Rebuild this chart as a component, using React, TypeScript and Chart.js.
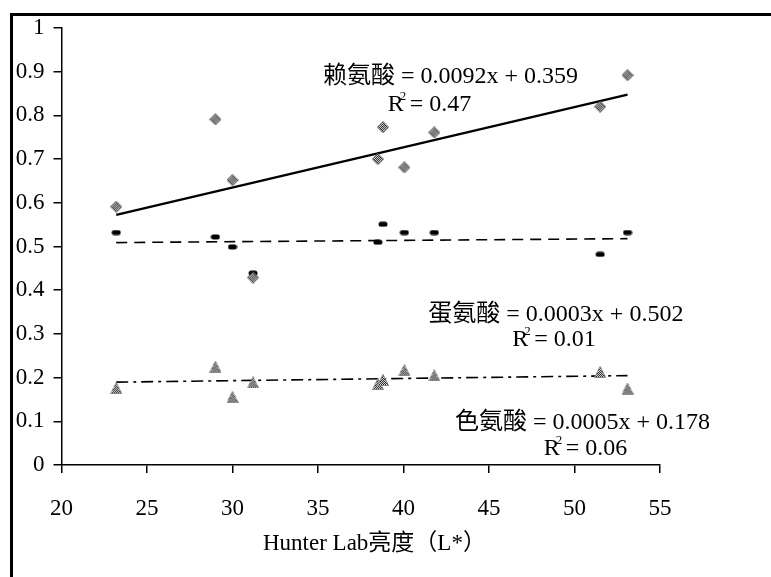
import { useEffect, useRef } from "react";
import { Chart, registerables } from "chart.js";

Chart.register(...registerables);

// ---- data ----
const lightness = [23.2, 29.0, 30.0, 31.2, 38.5, 38.8, 40.05, 41.8, 51.5, 53.1];
const lysine = [0.591, 0.791, 0.652, 0.429, 0.7, 0.773, 0.681, 0.761, 0.82, 0.892];
const methionine = [0.532, 0.522, 0.499, 0.439, 0.51, 0.551, 0.532, 0.532, 0.482, 0.532];
const tryptophan = [0.176, 0.225, 0.156, 0.189, 0.185, 0.195, 0.217, 0.205, 0.213, 0.175];

const seriesNames = ["赖氨酸", "蛋氨酸", "色氨酸"];
const slopes = [0.0092, 0.0003, 0.0005];
const intercepts = [0.359, 0.502, 0.178];
const rSquared = ["0.47", "0.01", "0.06"];

const xTitle = "Hunter Lab亮度（L*）";

// label anchors (layout only), in axis units
const labelAnchors = [
  { eqX: 42.75, eqY: 0.874, r2X: 41.52, r2Y: 0.81 },
  { eqX: 48.91, eqY: 0.3295, r2X: 48.8, r2Y: 0.273 },
  { eqX: 50.47, eqY: 0.0824, r2X: 50.64, r2Y: 0.0229 },
];
const titleAnchorX = 38.3;

const FONT = '"Liberation Serif", "Times New Roman", "Noto Sans CJK SC", serif';

function checkerMarker(shape: "diamond" | "triangle"): HTMLCanvasElement {
  const c = document.createElement("canvas");
  const s = 12;
  c.width = s;
  c.height = s;
  const ctx = c.getContext("2d")!;
  ctx.beginPath();
  if (shape === "diamond") {
    ctx.moveTo(6, 0.5);
    ctx.lineTo(11.5, 6);
    ctx.lineTo(6, 11.5);
    ctx.lineTo(0.5, 6);
  } else {
    ctx.moveTo(6, 0.5);
    ctx.lineTo(11.5, 11.5);
    ctx.lineTo(0.5, 11.5);
  }
  ctx.closePath();
  ctx.save();
  ctx.clip();
  for (let i = 0; i < s; i++) {
    for (let j = 0; j < s; j++) {
      ctx.fillStyle = (i + j) % 2 === 0 ? "#000" : "#fff";
      ctx.fillRect(i, j, 1, 1);
    }
  }
  ctx.restore();
  ctx.strokeStyle = shape === "diamond" ? "#555" : "#888";
  ctx.lineWidth = 1;
  ctx.stroke();
  return c;
}

function dashMarker(): HTMLCanvasElement {
  const c = document.createElement("canvas");
  c.width = 10;
  c.height = 6;
  const ctx = c.getContext("2d")!;
  ctx.fillStyle = "#000";
  ctx.beginPath();
  (ctx as any).roundRect ? (ctx as any).roundRect(0.5, 0.5, 9, 5, 2.5) : ctx.rect(0.5, 0.5, 9, 5);
  ctx.fill();
  return c;
}

export default function App() {
  const ref = useRef<HTMLCanvasElement>(null);

  useEffect(() => {
    const canvas = ref.current!;
    const x0 = Math.min(...lightness);
    const x1 = Math.max(...lightness);
    const trend = (i: number) => [
      { x: x0, y: slopes[i] * x0 + intercepts[i] },
      { x: x1, y: slopes[i] * x1 + intercepts[i] },
    ];
    const pts = (ys: number[]) => lightness.map((x, i) => ({ x, y: ys[i] }));

    const annotationPlugin = {
      id: "equations",
      afterDatasetsDraw(chart: any) {
        const { ctx, scales } = chart;
        const xs = scales.x;
        const ys = scales.y;
        ctx.save();
        ctx.fillStyle = "#000";
        ctx.textBaseline = "alphabetic";
        labelAnchors.forEach((a, i) => {
          const eq = `${seriesNames[i]} = ${slopes[i]}x + ${intercepts[i]}`;
          ctx.font = `24px ${FONT}`;
          ctx.textAlign = "center";
          ctx.fillText(eq, xs.getPixelForValue(a.eqX), ys.getPixelForValue(a.eqY));

          const cx = xs.getPixelForValue(a.r2X);
          const by = ys.getPixelForValue(a.r2Y);
          const rest = " = " + rSquared[i];
          const wR = ctx.measureText("R").width;
          const wRest = ctx.measureText(rest).width;
          const left = cx - (wR + wRest) / 2;
          ctx.textAlign = "left";
          ctx.fillText("R", left, by);
          ctx.fillText(rest, left + wR, by);
          ctx.font = `13px ${FONT}`;
          ctx.fillText("2", left + wR - 4, by - 11);
        });
        // x-axis title
        ctx.font = `23px ${FONT}`;
        ctx.textAlign = "center";
        ctx.textBaseline = "middle";
        ctx.fillText(xTitle, xs.getPixelForValue(titleAnchorX), xs.bottom - 33);
        ctx.restore();
      },
    };

    const chart = new Chart(canvas, {
      type: "scatter",
      data: {
        datasets: [
          {
            label: seriesNames[0],
            data: pts(lysine),
            pointStyle: checkerMarker("diamond"),
            pointRadius: 6,
            showLine: false,
          },
          {
            label: seriesNames[1],
            data: pts(methionine),
            pointStyle: dashMarker(),
            pointRadius: 5,
            showLine: false,
          },
          {
            label: seriesNames[2],
            data: pts(tryptophan),
            pointStyle: checkerMarker("triangle"),
            pointRadius: 6,
            showLine: false,
          },
          {
            label: "trend1",
            data: trend(0),
            showLine: true,
            pointRadius: 0,
            borderColor: "#000",
            borderWidth: 2.5,
          },
          {
            label: "trend2",
            data: trend(1),
            showLine: true,
            pointRadius: 0,
            borderColor: "#000",
            borderWidth: 1.6,
            borderDash: [11, 7],
          },
          {
            label: "trend3",
            data: trend(2),
            showLine: true,
            pointRadius: 0,
            borderColor: "#000",
            borderWidth: 1.6,
            borderDash: [12, 5, 3, 5],
          },
        ],
      },
      options: {
        responsive: false,
        animation: false,
        devicePixelRatio: 1,
        layout: { padding: { left: 0, top: 28, right: 111, bottom: 0 } },
        plugins: {
          legend: { display: false },
          tooltip: { enabled: false },
        },
        scales: {
          x: {
            type: "linear",
            min: 20,
            max: 55,
            ticks: {
              stepSize: 5,
              color: "#000",
              padding: 22,
              font: { family: FONT, size: 23 },
            },
            grid: {
              drawOnChartArea: false,
              drawTicks: true,
              tickLength: 8,
              color: "#000",
              lineWidth: 1.5,
            },
            border: { display: true, color: "#000", width: 1.5 },
            title: { display: false },
            afterFit: (scale: any) => {
              scale.height = 112;
            },
          },
          y: {
            type: "linear",
            min: 0,
            max: 1,
            ticks: {
              stepSize: 0.1,
              color: "#000",
              padding: 9,
              font: { family: FONT, size: 23 },
              callback: (v: any) => String(Number(Number(v).toFixed(1))),
            },
            grid: {
              drawOnChartArea: false,
              drawTicks: true,
              tickLength: 8,
              color: "#000",
              lineWidth: 1.5,
            },
            border: { display: true, color: "#000", width: 1.5 },
            afterFit: (scale: any) => {
              scale.width = 61.5;
            },
          },
        },
      },
      plugins: [annotationPlugin],
    });
    return () => chart.destroy();
  }, []);

  return (
    <div
      style={{
        position: "fixed",
        left: 0,
        top: 0,
        width: 771,
        height: 577,
        overflow: "hidden",
        background: "#fff",
      }}
    >
      <div
        style={{
          position: "absolute",
          left: 10,
          top: 13,
          width: 800,
          height: 620,
          borderLeft: "3px solid #000",
          borderTop: "3px solid #000",
        }}
      />
      <canvas
        ref={ref}
        width={771}
        height={577}
        style={{ position: "absolute", left: 0, top: 0, width: 771, height: 577 }}
      />
    </div>
  );
}
